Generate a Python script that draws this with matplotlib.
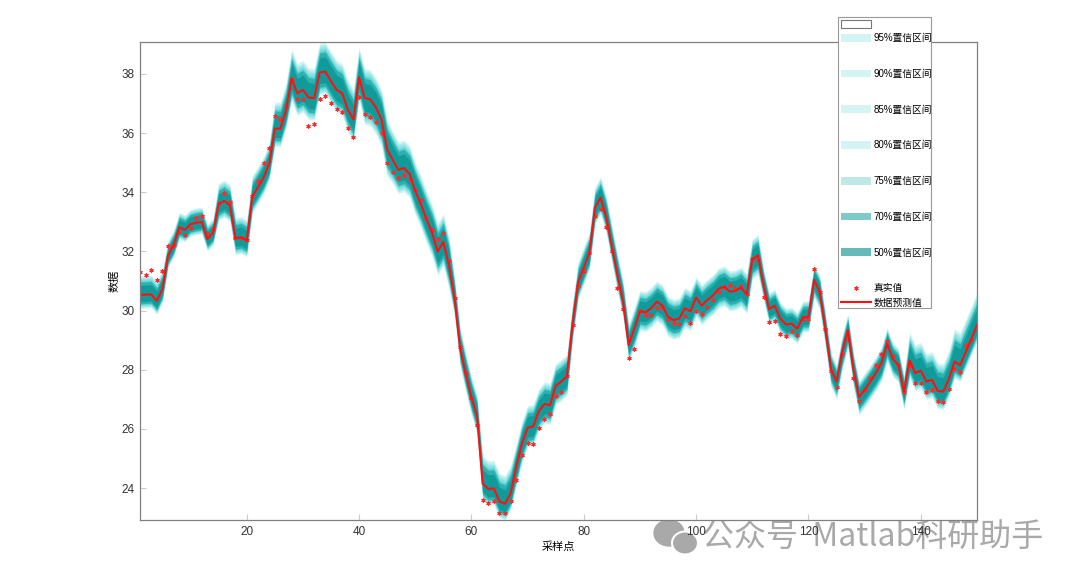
import numpy as np
import matplotlib.pyplot as plt
from matplotlib.patches import Patch, Rectangle, Ellipse
from matplotlib.lines import Line2D

plt.rcParams['font.family'] = ['Liberation Sans', 'Noto Sans CJK SC', 'DejaVu Sans']

# predicted values (red line)
pred = [30.53, 30.54, 30.55, 30.33, 30.74, 31.87, 32.22, 32.82, 32.73, 32.92,
        32.97, 33.00, 32.42, 32.62, 33.60, 33.71, 33.56, 32.44, 32.48, 32.37,
        33.86, 34.17, 34.50, 34.96, 36.15, 36.15, 36.78, 37.84, 37.35, 37.46,
        37.21, 37.18, 38.05, 38.08, 37.76, 37.46, 37.35, 36.80, 36.46, 37.89,
        37.19, 37.14, 36.87, 36.46, 35.45, 35.10, 34.76, 34.82, 34.62, 34.05,
        33.60, 33.09, 32.63, 32.00, 32.32, 31.55, 30.41, 28.71, 27.86, 27.07,
        26.44, 24.15, 23.97, 23.99, 23.55, 23.47, 23.83, 24.74, 25.51, 26.04,
        26.08, 26.60, 26.84, 26.80, 27.46, 27.60, 27.78, 29.56, 30.95, 31.45,
        31.95, 33.48, 33.82, 33.17, 32.18, 31.21, 30.30, 28.84, 29.39, 29.98,
        29.94, 30.08, 30.30, 30.17, 29.79, 29.68, 29.73, 30.08, 29.98, 30.44,
        30.17, 30.36, 30.51, 30.74, 30.81, 30.64, 30.67, 30.78, 30.55, 31.72,
        31.87, 30.87, 30.05, 30.17, 29.73, 29.53, 29.56, 29.39, 29.77, 29.79,
        31.04, 30.64, 29.39, 28.03, 27.60, 28.60, 29.34, 28.03, 27.07, 27.33,
        27.60, 27.89, 28.22, 28.88, 28.37, 28.17, 27.26, 28.32, 27.89, 27.97,
        27.60, 27.66, 27.29, 27.26, 27.69, 28.28, 28.15, 28.60, 29.05, 29.51]

# true values (red stars)
real = [31.30, 31.21, 31.37, 31.04, 31.33, 32.17, 32.23, 32.66, 32.57, 32.80,
        33.12, 33.19, 32.62, 32.76, 33.65, 33.96, 33.66, 32.46, 32.46, 32.40,
        33.86, 34.37, 35.00, 35.50, 36.57, 36.49, 36.91, 37.82, 37.14, 37.16,
        36.23, 36.32, 37.16, 37.25, 37.03, 36.81, 36.72, 36.19, 35.87, 37.21,
        36.63, 36.54, 36.37, 36.02, 34.98, 34.68, 34.49, 34.57, 34.44, 34.07,
        33.73, 33.14, 32.73, 32.42, 32.64, 31.67, 30.42, 28.77, 27.90, 27.03,
        26.12, 23.60, 23.51, 23.58, 23.17, 23.17, 23.55, 24.28, 25.11, 25.51,
        25.48, 26.02, 26.33, 26.51, 27.10, 27.26, 27.78, 29.53, 30.82, 31.33,
        31.95, 33.20, 33.44, 32.84, 32.00, 30.78, 30.07, 28.41, 28.69, 29.98,
        29.85, 29.85, 30.08, 30.11, 29.73, 29.59, 29.54, 29.81, 29.59, 30.00,
        29.88, 30.13, 30.36, 30.64, 30.81, 30.85, 30.76, 30.84, 30.55, 31.76,
        31.76, 30.47, 29.60, 29.64, 29.21, 29.14, 29.31, 29.19, 29.70, 29.73,
        31.39, 30.64, 29.37, 27.97, 27.43, 28.52, 29.03, 27.72, 26.95, 27.33,
        27.71, 28.15, 28.54, 28.97, 28.46, 28.17, 27.26, 28.15, 27.54, 27.54,
        27.24, 27.33, 26.95, 26.92, 27.35, 28.01, 27.94, 28.85, 29.00, 29.51]

# 95% interval half widths, read per stretch of samples (last index of each stretch)
seg_end = [5, 14, 24, 27, 40, 45, 56, 61, 67, 77, 88, 111, 120, 137, 145, 150]
seg_up = [0.65, 0.50, 0.70, 0.90, 1.00, 1.00, 0.95, 0.70, 0.95, 0.75, 0.70, 0.70, 0.55, 0.55, 0.95, 1.10]
seg_dn = [0.45, 0.40, 0.55, 0.60, 0.75, 0.90, 0.80, 0.60, 0.55, 0.65, 0.55, 0.65, 0.50, 0.60, 0.60, 0.55]

levels = ['95%', '90%', '85%', '80%', '75%', '70%', '50%']
frac = [1.0, 0.92, 0.85, 0.78, 0.72, 0.66, 0.5]
band_col = [(0, 0.765, 0.765)] * 4 + [(0, 0.63, 0.63), (0, 0.58, 0.58), (0, 0.55, 0.55)]
band_alpha = [0.17, 0.17, 0.17, 0.17, 0.25, 0.5, 0.6]

x = np.arange(1, len(pred) + 1)
pred = np.array(pred)
counts = np.diff([0] + seg_end)
up = np.repeat(seg_up, counts)
dn = np.repeat(seg_dn, counts)

fig = plt.figure(figsize=(10.8, 5.78), dpi=100)
ax = fig.add_axes([0.1296, 0.1003, 0.775, 0.827])

band_handles = []
for lab, f, c, a in zip(levels, frac, band_col, band_alpha):
    ax.fill_between(x, pred - dn * f, pred + up * f, color=c, alpha=a, lw=0)
    band_handles.append(Patch(facecolor=c, alpha=a, edgecolor='none'))

ax.plot(x, real, ls='none', marker=(6, 2, 0), ms=3, mew=0.8, color='#ff2a2a')
ax.plot(x, pred, color='#ff1010', lw=1.5)

ax.set_xlim(1, 150)
ax.set_ylim((pred - dn).min(), (pred + up).max())
ax.set_xticks(np.arange(20, 141, 20))
ax.set_yticks(np.arange(24, 39, 2))
ax.tick_params(direction='in', length=4, color='#cccccc', labelsize=8.5,
               labelcolor='#333333', pad=4)
for s in ax.spines.values():
    s.set_color('#808080')
    s.set_linewidth(0.9)

ax.set_xlabel('采样点', fontsize=8, labelpad=3)
ax.set_ylabel('数据', fontsize=8, labelpad=1)

# legend: frame + three stacked legends
fig.add_artist(Rectangle((838 / 1080, 1 - 308 / 578), 93 / 1080, 291 / 578,
                         transform=fig.transFigure, facecolor='white',
                         edgecolor='#999999', lw=0.8, zorder=4))
leg_kw = dict(loc='upper left', frameon=False, fontsize=7, borderpad=0,
              borderaxespad=0, handlelength=3.1, handleheight=0.85,
              handletextpad=0.25)
l1 = fig.legend([Patch(facecolor='white', edgecolor='#777777', lw=0.8)], [''],
                bbox_to_anchor=(841 / 1080, 1 - 19 / 578), **leg_kw)
star = Line2D([], [], ls='none', marker=(6, 2, 0), ms=3, mew=0.8, color='#ff2a2a')
l2 = fig.legend(band_handles + [star], [s + '置信区间' for s in levels] + ['真实值'],
                bbox_to_anchor=(841 / 1080, 1 - 33 / 578), labelspacing=2.65, **leg_kw)
l3 = fig.legend([Line2D([], [], color='#ff1010', lw=1.5)], ['数据预测值'],
                bbox_to_anchor=(841 / 1080, 1 - 298 / 578), **leg_kw)

# watermark, behind the tick labels
wm = '#a9a9a9'
fig.add_artist(Ellipse((669 / 1080, 1 - 533 / 578), 30 / 1080, 26 / 578,
                       transform=fig.transFigure, color=wm, zorder=-2))
fig.add_artist(Ellipse((685 / 1080, 1 - 543 / 578), 26 / 1080, 23 / 578,
                       transform=fig.transFigure, facecolor=wm, edgecolor='white',
                       lw=1.5, zorder=-2))
fig.text(702 / 1080, 1 - 537 / 578, '公众号  Matlab科研助手', fontsize=23, color=wm,
         va='center', ha='left', family=['Noto Sans CJK SC', 'DejaVu Sans'], zorder=-2)

fig.savefig('out.png', dpi=100)
